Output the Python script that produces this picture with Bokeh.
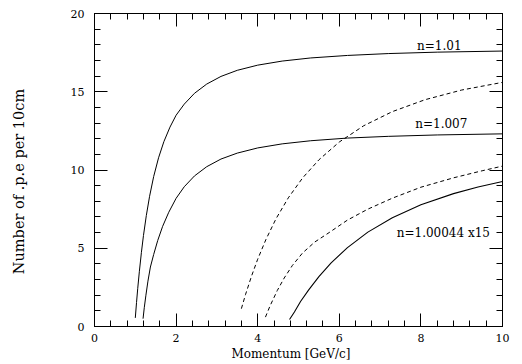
from bokeh.plotting import figure
from bokeh.models import Range1d, SingleIntervalTicker, LinearAxis, ColumnDataSource, CustomJSTickFormatter
from bokeh.core.properties import value
from bokeh.embed import file_html
from bokeh.resources import INLINE

# Values (momentum GeV/c, number of p.e.)
pi_101_p = [1.00, 1.03, 1.06, 1.10, 1.15, 1.20, 1.27, 1.35, 1.45, 1.57, 1.70, 1.85, 2.00, 2.20, 2.45, 2.75,
            3.10, 3.50, 4.00, 4.60, 5.30, 6.20, 7.20, 8.40, 10.0]
pi_101_n = [0.55, 1.53, 2.44, 3.53, 4.74, 5.81, 7.09, 8.32, 9.58, 10.78, 11.81, 12.74, 13.5, 14.21, 14.9, 15.49,
            15.98, 16.37, 16.7, 16.96, 17.16, 17.32, 17.44, 17.53, 17.6]

pi_1007_p = [1.19, 1.22, 1.26, 1.31, 1.37, 1.45, 1.55, 1.67, 1.82, 2.00, 2.20, 2.45, 2.75, 3.10, 3.50, 4.00,
             4.60, 5.30, 6.20, 7.20, 8.40, 10.0]
pi_1007_n = [0.5, 1.2, 2.0, 2.9, 3.8, 4.6, 5.5, 6.4, 7.3, 8.19, 8.93, 9.62, 10.21, 10.7, 11.08, 11.41,
             11.67, 11.87, 12.04, 12.15, 12.24, 12.31]

k_101_p = [3.60, 3.70, 3.85, 4.00, 4.20, 4.45, 4.75, 5.10, 5.50, 6.00, 6.60, 7.30, 8.10, 9.00, 10.0]
k_101_n = [1.14, 2.03, 3.23, 4.3, 5.55, 6.89, 8.22, 9.49, 10.65, 11.79, 12.83, 13.73, 14.49, 15.11, 15.6]

k_1007_p = [4.19, 4.30, 4.48, 4.65, 4.85, 5.10, 5.40, 5.75, 6.20, 6.70, 7.30, 8.00, 8.80, 9.50, 10.0]
k_1007_n = [0.6, 1.3, 2.3, 3.1, 3.9, 4.7, 5.4, 6.0, 6.8, 7.5, 8.2, 8.9, 9.5, 9.95, 10.25]

pi_100044_p = [4.78, 4.90, 5.05, 5.25, 5.50, 5.80, 6.20, 6.70, 7.30, 8.00, 8.80, 9.40, 10.0]
pi_100044_n = [0.45, 0.93, 1.6, 2.34, 3.19, 4.07, 5.04, 6.03, 6.95, 7.78, 8.49, 8.91, 9.26]

label_text = ["n=1.01", "n=1.007", "n=1.00044 x15"]
label_x = [8.45, 8.5, 8.55]
label_y = [17.95, 12.95, 5.96]

x_title = "Momentum [GeV/c]"
y_title = "Number of .p.e per 10cm"
NBSP = "\u00a0"

FONT = "DejaVu Serif"

p = figure(width=522, height=364, output_backend="svg", toolbar_location=None,
           x_range=Range1d(0, 10), y_range=Range1d(0, 20),
           min_border_left=94, min_border_right=20, min_border_top=13, min_border_bottom=38)
p.xgrid.visible = False
p.ygrid.visible = False
p.outline_line_color = "black"
p.background_fill_color = "white"
p.border_fill_color = "white"

def style(ax):
    ax.axis_line_color = "black"
    ax.major_tick_in = 13
    ax.major_tick_out = 0
    ax.minor_tick_in = 6
    ax.minor_tick_out = 0
    ax.major_tick_line_color = "black"
    ax.minor_tick_line_color = "black"
    ax.major_label_text_font = FONT
    ax.major_label_text_font_size = "11px"
    ax.major_label_text_color = "black"
    ax.axis_label_text_font = FONT
    ax.axis_label_text_font_style = "normal"
    ax.axis_label_text_color = "black"

p.xaxis.ticker = SingleIntervalTicker(interval=2, num_minor_ticks=5)
p.yaxis.ticker = SingleIntervalTicker(interval=5, num_minor_ticks=5)
for ax in p.xaxis + p.yaxis:
    style(ax)
p.xaxis.major_label_standoff = 7
p.yaxis.major_label_standoff = 10
# trailing non-breaking spaces nudge the titles off-centre like the reference
p.xaxis.axis_label = x_title + NBSP * 4
p.xaxis.axis_label_text_font_size = "12px"
p.xaxis.axis_label_standoff = 2
p.yaxis.axis_label = y_title + NBSP * 5
p.yaxis.axis_label_text_font_size = "14.5px"
p.yaxis.axis_label_standoff = 41

blank = CustomJSTickFormatter(code="return ''")
top = LinearAxis(ticker=SingleIntervalTicker(interval=2, num_minor_ticks=5), formatter=blank)
style(top)
top.major_label_standoff = 0
p.add_layout(top, "above")
right = LinearAxis(ticker=SingleIntervalTicker(interval=5, num_minor_ticks=5), formatter=blank)
style(right)
right.major_label_standoff = 0
p.add_layout(right, "right")

p.line(pi_101_p, pi_101_n, line_color="black", line_width=1)
p.line(pi_1007_p, pi_1007_n, line_color="black", line_width=1)
p.line(pi_100044_p, pi_100044_n, line_color="black", line_width=1.1)
p.line(k_101_p, k_101_n, line_color="black", line_width=1, line_dash="4 3")
p.line(k_1007_p, k_1007_n, line_color="black", line_width=1, line_dash="4 3")

src = ColumnDataSource(dict(x=label_x, y=label_y, t=label_text))
p.text(x="x", y="y", text="t", source=src, text_font=value(FONT), text_font_size="12px",
       text_align="center", text_baseline="middle", text_color="black")

open("out.html", "w").write(file_html(p, INLINE))
